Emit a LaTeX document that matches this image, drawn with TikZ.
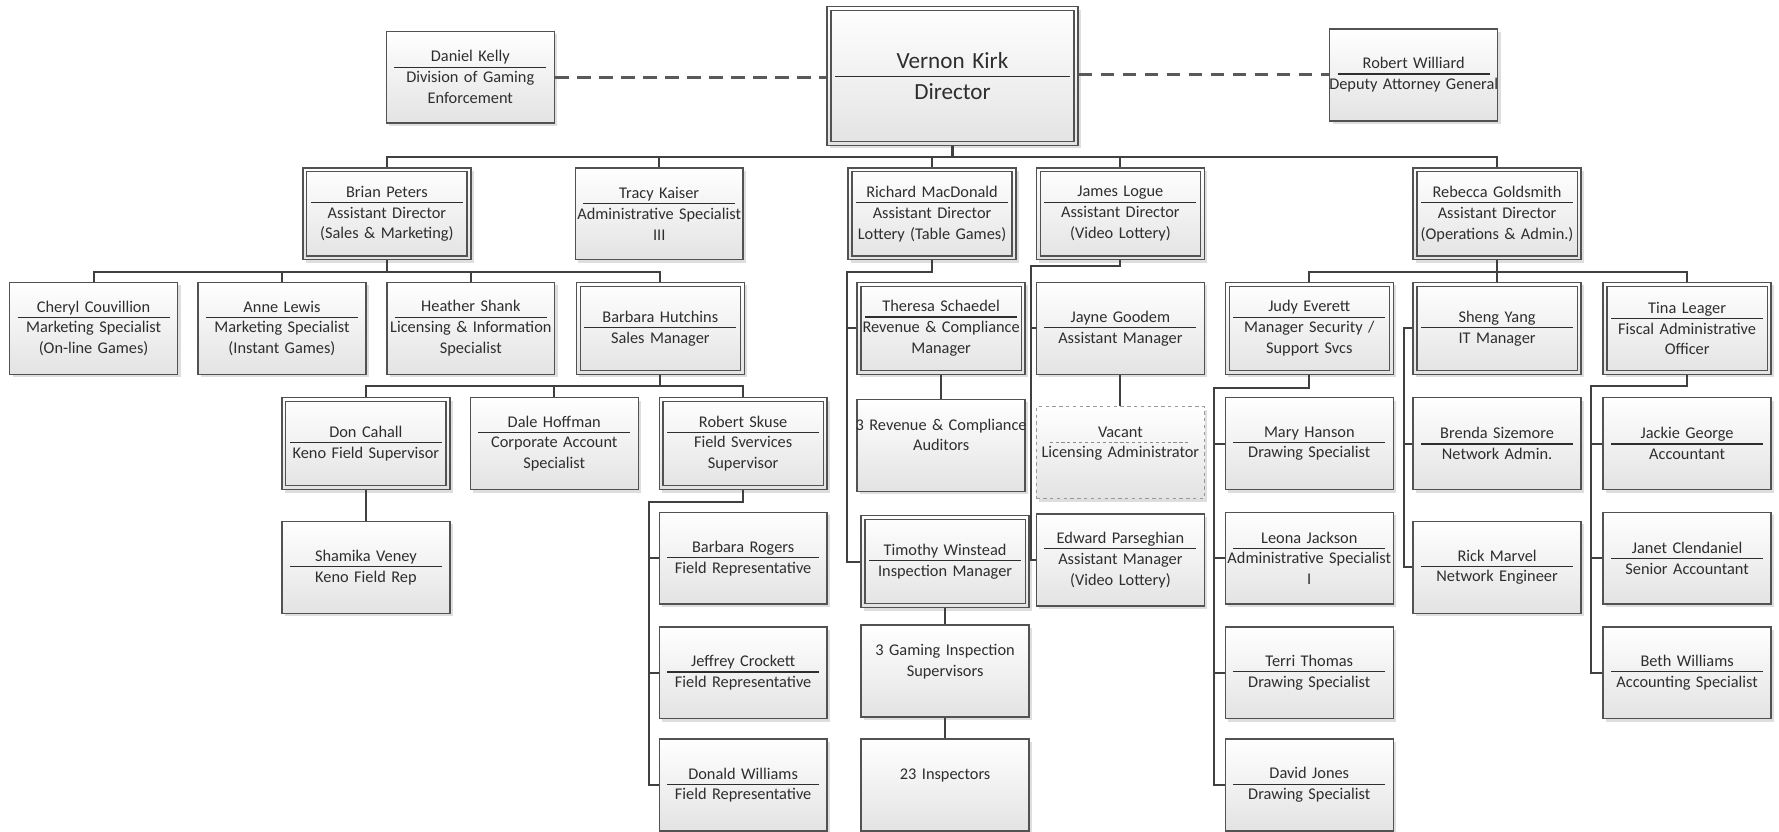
\documentclass[tikz,border=0pt]{standalone}
\usepackage{fontspec}
\setmainfont{Carlito}
\usetikzlibrary{calc,shadows}
\hyphenpenalty=10000
\exhyphenpenalty=10000
\newcommand\fs{\fontsize{7.2}{9.2}\selectfont}
\newcommand\fb{\fontsize{10.2}{13.8}\selectfont}
\newcommand\Ln[1]{\makebox[\linewidth]{#1}}
\newcommand\dv{\\[\dimexpr .5\baselineskip-.28em-\baselineskip\relax]\rule{\dimexpr\linewidth-7pt\relax}{0.55pt}\\[\dimexpr .28em-.5\baselineskip\relax]}
\newcommand\dvd{\\[\dimexpr .5\baselineskip-.28em-\baselineskip\relax]{\leavevmode\color{black!45}\leaders\hbox to 2.6pt{\hss\rule{1.4pt}{0.5pt}\hss}\hskip\dimexpr\linewidth-8pt\relax}\\[\dimexpr .28em-.5\baselineskip\relax]}
\begin{document}
\begin{tikzpicture}[x=0.5pt,y=-0.5pt,
 bx/.style={rectangle, draw=black!68, line width=0.6pt, top color=white, bottom color=black!11,
   minimum width=74pt, minimum height=40.5pt, text width=74pt, inner sep=0pt, align=center,
   font=\fs, text=black!82, general shadow={fill=black!13, shadow xshift=1.3pt, shadow yshift=-1.3pt}},
 vac/.style={bx, draw=black!40, dash pattern=on 1.5pt off 1.5pt, line width=0.5pt},
 inr/.style={draw=black!68, line width=0.6pt},
 ln/.style={draw=black!75, line width=0.9pt},
 dsh/.style={draw=black!65, line width=1.3pt, dash pattern=on 6pt off 3.7pt}]
\fill[white] (0,0) rectangle (1568,733);
\useasboundingbox (0,0) rectangle (1568,733);
% top
\node[bx] (dk) at (414.5,68) {Daniel Kelly\dv Division of Gaming\\Enforcement};
\node[bx, minimum width=110.5pt, text width=110.5pt, minimum height=61pt, font=\fb] (vk) at (839.5,67) {Vernon Kirk\dv Director};
\node[bx] (rw) at (1246,66) {Robert Williard\dv \Ln{Deputy Attorney General}};
% level 2
\node[bx] (bp) at (341,188.5) {Brian Peters\dv Assistant Director\\(Sales \& Marketing)};
\node[bx] (tk) at (581,188.5) {Tracy Kaiser\dv \Ln{Administrative Specialist}\\III};
\node[bx] (rm) at (821.5,188.5) {\Ln{Richard MacDonald}\dv Assistant Director\\\Ln{Lottery (Table Games)}};
\node[bx] (jl) at (987.5,188.5) {James Logue\dv Assistant Director\\(Video Lottery)};
\node[bx] (rg) at (1319.5,188.5) {\Ln{Rebecca Goldsmith}\dv Assistant Director\\\Ln{(Operations \& Admin.)}};
% level 3
\node[bx] (cc) at (82.5,289.5) {Cheryl Couvillion\dv Marketing Specialist\\(On-line Games)};
\node[bx] (al) at (248.5,289.5) {Anne Lewis\dv Marketing Specialist\\(Instant Games)};
\node[bx] (hs) at (415,289.5) {Heather Shank\dv \Ln{Licensing \& Information}\\Specialist};
\node[bx] (bh) at (582,289.5) {Barbara Hutchins\dv Sales Manager};
\node[bx] (ts) at (829.5,289.5) {\Ln{Theresa Schaedel}\dv \Ln{Revenue \& Compliance}\\Manager};
\node[bx] (jg) at (987.5,289.5) {Jayne Goodem\dv Assistant Manager};
\node[bx] (je) at (1154,289.5) {Judy Everett\dv \Ln{Manager Security /}\\Support Svcs};
\node[bx] (sy) at (1319.5,289.5) {Sheng Yang\dv IT Manager};
\node[bx] (tl) at (1487,289.5) {Tina Leager\dv \Ln{Fiscal Administrative}\\Officer};
% level 4
\node[bx] (dc) at (322.5,391) {Don Cahall\dv \Ln{Keno Field Supervisor}};
\node[bx] (dh) at (488.5,391) {Dale Hoffman\dv Corporate Account\\Specialist};
\node[bx] (rs) at (655,391) {Robert Skuse\dv Field Svervices\\Supervisor};
\node[bx] (au) at (829.5,392.5) {\Ln{3 Revenue \& Compliance}\\Auditors\\\mbox{}};
\node[vac] (va) at (987.5,399) {Vacant\dvd \Ln{Licensing Administrator}\\\mbox{}};
\node[bx] (mh) at (1154,391) {Mary Hanson\dv Drawing Specialist};
\node[bx] (bs) at (1319.5,391) {Brenda Sizemore\dv Network Admin.};
\node[bx] (jk) at (1487,391) {Jackie George\dv Accountant};
% level 5
\node[bx] (sv) at (322.5,500) {Shamika Veney\dv Keno Field Rep};
\node[bx] (br) at (655,492) {Barbara Rogers\dv \Ln{Field Representative}};
\node[bx] (tw) at (833,495) {\Ln{Timothy Winstead}\dv Inspection Manager};
\node[bx] (ep) at (987.5,493.5) {\Ln{Edward Parseghian}\dv Assistant Manager\\(Video Lottery)};
\node[bx] (lj) at (1154,492) {Leona Jackson\dv \Ln{Administrative Specialist}\\I};
\node[bx] (rmv) at (1319.5,500) {Rick Marvel\dv Network Engineer};
\node[bx] (jc) at (1487,492) {Janet Clendaniel\dv Senior Accountant};
% level 6
\node[bx] (jcr) at (655,593) {Jeffrey Crockett\dv \Ln{Field Representative}};
\node[bx] (gis) at (833,591.5) {\Ln{3 Gaming Inspection}\\Supervisors\\\mbox{}};
\node[bx] (tt) at (1154,593) {Terri Thomas\dv Drawing Specialist};
\node[bx] (bw) at (1487,593) {Beth Williams\dv \Ln{Accounting Specialist}};
% level 7
\node[bx] (dw) at (655,692) {Donald Williams\dv \Ln{Field Representative}};
\node[bx] (ins) at (833,692) {23 Inspectors\\\mbox{}};
\node[bx] (djo) at (1154,692) {David Jones\dv Drawing Specialist};
% double borders
\foreach \n in {vk,bp,rm,jl,rg,bh,ts,je,sy,tl,dc,rs,tw}
  \draw[inr] ($(\n.north west)+(4,4)$) rectangle ($(\n.south east)+(-4,-4)$);
% dashed links
\draw[dsh] (dk.east -| dk.east) -- (dk.east -| vk.west);
\draw[dsh] (rw.west -| vk.east) -- (rw.west);
% director
\foreach \c in {bp,tk,rm,jl,rg}
  \draw[ln] (vk.south) -- +(0,9.5) -| (\c.north);
% Brian
\foreach \c in {cc,al,hs,bh}
  \draw[ln] (bp.south) -- +(0,10.5) -| (\c.north);
% Barbara H
\foreach \c in {dc,dh,rs}
  \draw[ln] (bh.south) -- +(0,10) -| (\c.north);
\draw[ln] (dc.south) -- (sv.north);
% Skuse
\coordinate (rsT) at ($(br.west)+(-8,0)$);
\draw[ln] (rs.south) -- +(0,10) -| (rsT |- dw.west) -- (dw.west);
\foreach \c in {br,jcr}
  \draw[ln] (rsT |- \c.west) -- (\c.west);
% Richard
\coordinate (rmT) at ($(ts.west)+(-8,0)$);
\draw[ln] (rm.south) -- +(0,10) -| (rmT |- tw.west) -- (tw.west);
\draw[ln] (rmT) -- (ts.west);
\draw[ln] (ts.south) -- (au.north);
\draw[ln] (tw.south) -- (gis.north);
\draw[ln] (gis.south) -- (ins.north);
% James
\coordinate (jlT) at ($(jg.west)+(-4.5,0)$);
\draw[ln] (jl.south) -- +(0,4.6) -| (jlT |- ep.west) -- (ep.west);
\draw[ln] (jlT) -- (jg.west);
\draw[ln] (jg.south) -- (va.north);
% Rebecca
\foreach \c in {je,sy,tl}
  \draw[ln] (rg.south) -- +(0,10) -| (\c.north);
% Judy
\coordinate (jeT) at ($(mh.west)+(-9,0)$);
\draw[ln] (je.south) -- +(0,11) -| (jeT |- djo.west) -- (djo.west);
\foreach \c in {mh,lj,tt}
  \draw[ln] (jeT |- \c.west) -- (\c.west);
% Sheng
\coordinate (syT) at ($(sy.west)+(-7.5,0)$);
\draw[ln] (sy.west) -- (syT) |- (rmv.west);
\draw[ln] (syT |- bs.west) -- (bs.west);
% Tina
\coordinate (tlT) at ($(jk.west)+(-10,0)$);
\draw[ln] (tl.south) -- +(0,10) -| (tlT |- bw.west) -- (bw.west);
\foreach \c in {jk,jc}
  \draw[ln] (tlT |- \c.west) -- (\c.west);
\end{tikzpicture}
\end{document}
